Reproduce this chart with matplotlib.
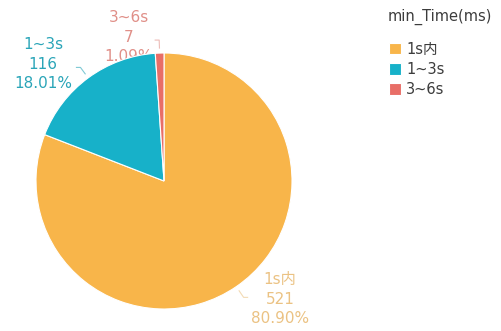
import numpy as np
import matplotlib
matplotlib.use("Agg")
from matplotlib import pyplot as plt

plt.rcParams['font.family'] = ['DejaVu Sans', 'Noto Sans CJK SC']

# Data
names = ["1s内", "1~3s", "3~6s"]
counts = [521, 116, 7]
colors = ["#F8B54A", "#17B1C9", "#E86E67"]
text_colors = ["#EBC283", "#2AA5B8", "#E08F88"]

W, H = 502, 331
fig = plt.figure(figsize=(W / 100, H / 100), dpi=100)
ax = fig.add_axes([0, 0, 1, 1])

cx, cy, r = 164, H - 181, 128
total = float(sum(counts))

wedges, _ = ax.pie(counts, colors=colors, startangle=90, counterclock=False,
                   center=(cx, cy), radius=r, frame=True,
                   wedgeprops=dict(edgecolor="white", linewidth=0.8))
ax.set_xlim(0, W)
ax.set_ylim(0, H)
ax.set_aspect("equal")
ax.axis("off")

# label block centres (name line), offsets in pixels from pie centre
label_pos = [(280 - cx, 181 - 280), (43 - cx, 181 - 45), (129 - cx, 181 - 18)]

for w, n, c, tc, (dx, dy) in zip(wedges, names, counts, text_colors, label_pos):
    mid = np.deg2rad((w.theta1 + w.theta2) / 2.0)
    ux, uy = np.cos(mid), np.sin(mid)
    # short leader line with a small bend
    x0, y0 = cx + (r + 5) * ux, cy + (r + 5) * uy
    x1, y1 = cx + (r + 13) * ux, cy + (r + 13) * uy
    x2 = x1 + (4 if ux > 0 else -4)
    ax.plot([x0, x1, x2], [y0, y1, y1], color=tc, lw=0.8, alpha=0.6, zorder=0)
    pct = "%.2f%%" % (c / total * 100)
    ax.text(cx + dx, cy + dy + 8, "%s\n%d\n%s" % (n, c, pct), color=tc,
            fontsize=11, ha="center", va="top", linespacing=1.38, zorder=0)

# legend title drawn on its own, entries below it
ax.text(388, H - 17, "min_Time(ms)", color="#3c3c3c", fontsize=10.5,
        ha="left", va="center")
leg = ax.legend(wedges, names, frameon=False,
                loc="upper left", bbox_to_anchor=(386 / W, 1 - 39 / H),
                handlelength=0.8, handleheight=0.8, handletextpad=0.4,
                labelspacing=0.35, fontsize=10.5,
                borderaxespad=0, borderpad=0.2)
for t in leg.get_texts():
    t.set_color("#3c3c3c")

fig.savefig("out.png", dpi=100)
